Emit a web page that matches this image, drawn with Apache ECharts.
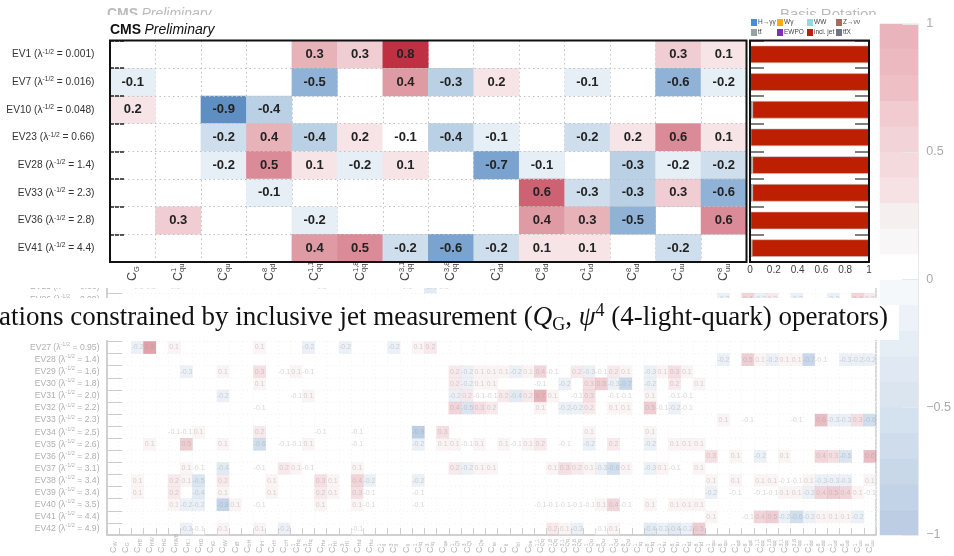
<!DOCTYPE html>
<html><head><meta charset="utf-8">
<style>html,body{margin:0;padding:0;background:#fff}#c{width:954px;height:556px}</style>
<script src="https://cdn.jsdelivr.net/npm/echarts@6/dist/echarts.min.js"></script>
</head><body><div id="c"></div>
<script>
// ---------- upper panel data ----------
const topCols = ['G','qu|1','qu|8','qd|8','qq|1,1','qq|1,8','qq|3,1','qq|3,8','dd|1','dd|8','ud|1','ud|8','uu|1','uu|8'];
const topRows = ['EV1','EV7','EV10','EV23','EV28','EV33','EV36','EV41'];
const topLambda = ['0.001','0.016','0.048','0.66','1.4','2.3','2.8','4.4'];
const topEV1  = [[4,.34],[5,.27],[6,.82],[12,.27],[13,.12]];
const topEV7  = [[0,-.14],[4,-.52],[6,.42],[7,-.33],[8,.19],[10,-.14],[12,-.58],[13,-.18]];
const topEV10 = [[0,.18],[2,-.88],[3,-.37]];
const topEV23 = [[2,-.22],[3,.36],[4,-.38],[5,.18],[6,-.06],[7,-.38],[8,-.14],[10,-.22],[11,.18],[12,.58],[13,.12]];
const topEV28 = [[2,-.18],[3,.53],[4,.14],[5,-.18],[6,.14],[8,-.68],[9,-.14],[11,-.34],[12,-.18],[13,-.22]];
const topEV33 = [[3,-.13],[9,.64],[10,-.27],[11,-.33],[12,.26],[13,-.58]];
const topEV36 = [[1,.26],[4,-.18],[9,.42],[10,.34],[11,-.52],[13,.58]];
const topEV41 = [[4,.44],[5,.52],[6,-.22],[7,-.62],[8,-.23],[9,.13],[10,.13],[12,-.22]];
const topValues = [topEV1,topEV7,topEV10,topEV23,topEV28,topEV33,topEV36,topEV41];

// ---------- fraction bars ----------
const barNames = ['H→γγ','Wγ','WW','Z→νν','tt̄','EWPO','incl. jet','tt̄X'];
const barColors = ['#3f90da','#ffa90e','#92dadd','#a96b59','#94a4a2','#832db6','#bd2000','#717581'];
const fracTt  = [0.002,0.002,0.02,0.006,0.02,0.02,0.004,0.015];
const fracJet = [0.998,0.998,0.98,0.994,0.98,0.98,0.996,0.985];
const fracZero = [0,0,0,0,0,0,0,0];

// ---------- lower panel data ----------
const lowCols = ['W','G2|','HB','HW','HG','HWB','H□','HD','tG','tW','tB','bH','tH','τH','cH','Hq|1','Hq|3','He','Hl|1','Hl|3','Hd','Hu','ll|1','ll|3','ll','lq|1','lq|3','qe','Ql|1','Ql|3','Qe','te','tl','bl','be','Qq|1,1','Qq|1,8','Qq|3,1','Qq|3,8','Qu|1','Qu|8','Qd|1','Qd|8','tq|1','tq|8','tu|1','tu|8','td|1','td|8','qu|1','qu|8','qd|1','qd|8','qq|1,1','qq|1,8','qq|3,1','qq|3,8','dd|1','dd|8','ud|1','ud|8','uu|1','uu|8'];
const lowRows = ['EV25','EV26','','','','EV27','EV28','EV29','EV30','EV31','EV32','EV33','EV34','EV35','EV36','EV37','EV38','EV39','EV40','EV41','EV42'];
const lowLambda = ['0.86','0.90','','','','0.95','1.4','1.6','1.8','2.0','2.2','2.3','2.5','2.6','2.8','3.1','3.4','3.4','3.5','4.4','4.9'];
const ev25 = [[2,-.1],[3,-.1],[5,-.1],[17,-.1],[24,-.1],[26,-.4],[27,-.1]];
const ev26 = [[50,-.2],[52,.4],[53,-.3],[54,.2],[56,-.2],[59,-.2],[61,.4],[62,.2]];
const ev27 = [[2,-.2],[3,.9],[5,.1],[12,.1],[16,-.2],[19,-.2],[23,-.2],[25,.1],[26,.2]];
const ev28 = [[50,-.2],[52,.5],[53,.1],[54,-.2],[55,.1],[56,.1],[57,-.7],[58,-.1],[60,-.3],[61,-.2],[62,-.2]];
const ev29 = [[6,-.3],[9,.1],[12,.3],[14,-.1],[15,.1],[16,-.1],[28,.2],[29,-.2],[30,.1],[31,.1],[32,.1],[33,-.2],[34,.1],[35,.4],[36,-.1],[38,.2],[39,-.3],[40,-.1],[41,.2],[42,.1],[44,-.3],[45,.1],[46,.3],[47,.1]];
const ev30 = [[12,.1],[28,.2],[29,-.2],[30,.1],[31,.1],[35,-.1],[37,-.2],[39,.3],[40,.5],[41,-.3],[42,-.7],[44,-.2],[46,.2],[48,.1]];
const ev31 = [[9,-.2],[15,-.1],[16,.1],[28,-.2],[29,.2],[30,-.1],[31,-.1],[32,.2],[33,-.4],[34,.2],[35,.7],[36,.1],[38,-.1],[39,.3],[41,-.1],[42,-.1],[44,.1],[46,-.1],[47,-.1]];
const ev32 = [[12,-.1],[28,.4],[29,-.5],[30,.3],[31,.2],[35,.1],[37,-.2],[38,-.2],[39,.2],[41,.1],[42,.1],[44,.5],[45,-.1],[46,-.2],[47,-.1]];
const ev33 = [[50,.1],[52,-.1],[56,-.1],[58,.6],[59,-.3],[60,-.3],[61,.3],[62,-.6]];
const ev34 = [[5,-.1],[6,-.1],[7,.1],[12,.2],[17,-.1],[20,-.1],[25,-.9],[27,.3],[39,.1],[44,.1]];
const ev35 = [[3,.1],[6,.5],[9,.1],[12,-.6],[14,-.1],[15,-.1],[16,.1],[20,-.1],[25,-.2],[27,.1],[28,.1],[29,-.1],[30,.1],[32,.1],[33,-.1],[34,.1],[35,.2],[37,-.1],[39,-.2],[41,.2],[44,-.2],[46,.1],[47,.1],[48,.1]];
const ev36 = [[49,.3],[51,.1],[53,-.2],[55,.1],[58,.4],[59,.3],[60,-.5],[62,.6]];
const ev37 = [[6,.1],[7,-.1],[9,-.4],[12,-.1],[14,.2],[15,.1],[16,-.1],[20,.1],[28,.2],[29,-.2],[30,.1],[31,.1],[36,.1],[37,.3],[38,.2],[39,.1],[40,-.3],[41,-.6],[42,.1],[44,-.3],[45,.1],[46,-.1],[48,.1]];
const ev38 = [[2,.1],[5,.2],[6,.1],[7,-.5],[9,.2],[13,.1],[17,.3],[18,.1],[20,.4],[21,-.2],[25,-.2],[49,.1],[51,.1],[53,.1],[54,.1],[55,-.1],[56,-.1],[57,.1],[58,-.3],[59,-.3],[60,-.3],[62,.1]];
const ev39 = [[2,.1],[5,.2],[7,-.4],[9,.1],[13,.1],[17,.2],[18,.1],[20,.3],[21,-.1],[25,-.1],[49,-.2],[51,-.1],[53,-.1],[54,-.1],[55,.1],[56,.1],[57,-.2],[58,.4],[59,.5],[60,.4],[61,.1],[62,-.1]];
const ev40 = [[5,.1],[6,-.2],[7,-.2],[9,-.8],[10,.1],[12,-.1],[17,.1],[20,.1],[21,-.1],[25,-.1],[35,-.1],[36,-.1],[37,-.1],[38,-.1],[39,-.1],[40,.1],[41,.4],[42,-.1],[44,.1],[46,.1],[47,.1],[48,.1]];
const ev41 = [[49,.1],[52,-.1],[53,.4],[54,.5],[55,-.2],[56,-.6],[57,-.2],[58,.1],[59,.1],[60,.1],[61,-.2]];
const ev42 = [[6,-.3],[7,-.1],[9,.1],[12,.1],[14,-.2],[20,-.1],[36,.2],[37,.1],[38,-.3],[40,-.1],[41,.1],[44,-.4],[45,-.2],[46,-.4],[47,-.2],[48,.5]];
const lowValues = [ev25,ev26,[],[],[],ev27,ev28,ev29,ev30,ev31,ev32,ev33,ev34,ev35,ev36,ev37,ev38,ev39,ev40,ev41,ev42];

// ---------- colour scale ----------
const binLow = [-1,-.9,-.8,-.7,-.6,-.5,-.4,-.3,-.2,-.1,0,.1,.2,.3,.4,.5,.6,.7,.8,.9];
const scaleColors = ['#bdcee4','#c3d3e7','#c9d8e9','#cfdcec','#d4e1ee','#dae5f0','#e0e9f3','#e6eef5','#edf2f8','#f5f8fb','#ffffff','#f8f6f6','#f5efef','#f6e1e4','#f4dadd','#f2d3d7','#f1cbd0','#eec0c6','#ecb9c0','#e9b4bb'];
const posCells = ['#ffffff','#f6e4e7','#efcdd2','#e8b2b9','#df9ba4','#da8b97','#cc6272','#c54a5b','#be3042','#b41f32'];
const negCells = ['#477eb9','#5587bf','#5f8ec2','#6d9aca','#7ba3cf','#8fb2d6','#a5c2de','#bad0e5','#cfdeec','#e6eef6'];
const negTop = [-1,-.9,-.8,-.7,-.6,-.5,-.4,-.3,-.2,-.1];

const SANS = '"Liberation Sans", Arial, sans-serif';
const SERIF = '"Liberation Serif", serif';

function pieces(){
  const out = [{gte:-.1,lt:.1,color:'#ffffff'}];
  negTop.slice(0,-1).forEach((lo,i)=>out.push({gte:lo,lt:lo+.1,color:negCells[i+1]}));
  for(let i=1;i<10;i++) out.push({gte:i/10,lte:i/10+.0999,color:posCells[i]});
  return out;
}
function cells(rows){const d=[];rows.forEach((r,y)=>r.forEach(p=>d.push([p[0],y,p[1]])));return d;}
function splitName(s){const p=s.split('|');return {sub:p[0].replace(/\d$/,''),sup:p[1]||''};}
function subLabel(v){const n=splitName(v);return '{c|C}{s|'+n.sub+'}';}
function supLabel(v){const n=splitName(v);return n.sup?'{t|C}{u|'+n.sup+'}':'';}
function rowLabel(names,lams){return (v,i)=>names[i]?'{a|'+names[i]+' (λ}{s|-1/2}{a| = '+lams[i]+')}':'';}

const lowRich=(col)=>({c:{fontSize:9,color:col,lineHeight:11,fontFamily:SANS},s:{fontSize:5.5,color:col,lineHeight:5,verticalAlign:'bottom',fontFamily:SANS},t:{fontSize:9,color:'transparent',lineHeight:11,fontFamily:SANS},u:{fontSize:5.5,color:col,lineHeight:5,verticalAlign:'top',fontFamily:SANS}});
const topRich=(col)=>({c:{fontSize:12.5,color:col,lineHeight:16,fontFamily:SANS},s:{fontSize:7.5,color:col,lineHeight:7,verticalAlign:'bottom',fontFamily:SANS},t:{fontSize:12.5,color:'transparent',lineHeight:16,fontFamily:SANS},u:{fontSize:7.5,color:col,lineHeight:7,verticalAlign:'top',fontFamily:SANS}});
const rowRich=(size,col)=>({a:{fontSize:size,color:col,fontFamily:SANS,lineHeight:12},s:{fontSize:size*.65,color:col,fontFamily:SANS,lineHeight:6,verticalAlign:'top'}});

function catX(grid,data,zl,formatter,rich,margin,extra){
  return Object.assign({type:'category',gridIndex:grid,position:'bottom',data,zlevel:zl,
    axisLine:{show:false},axisTick:{show:false},
    axisLabel:{interval:0,rotate:90,align:'left',verticalAlign:'middle',margin,formatter,rich},
    splitLine:{show:false}},extra||{});
}

const option={
 animation:false,backgroundColor:'#fff',
 textStyle:{fontFamily:SANS},
 grid:[
  {left:107,top:281,width:769,height:254,show:true,borderColor:'#cccccc',borderWidth:1.5,backgroundColor:'transparent',zlevel:0},
  {left:110,top:40.5,width:636.5,height:221.5,zlevel:2},
  {left:750,top:40.5,width:119,height:221.5,zlevel:2},
  {left:880,top:24,width:43,height:511,zlevel:0}
 ],
 xAxis:[
  catX(0,lowCols,0,(v,i)=>subLabel(v),lowRich('#b4b4b4'),18,{splitLine:{show:true,interval:0,lineStyle:{color:'#f3f3f3',type:[1,3],width:1}},axisTick:{show:true,inside:true,length:7,interval:0,lineStyle:{color:'#cccccc'}},axisLine:{show:true,lineStyle:{color:'#cccccc',width:1.5}}}),
  catX(0,lowCols,0,(v,i)=>supLabel(v),lowRich('#b4b4b4'),18),
  catX(1,topCols,2,(v,i)=>subLabel(v),topRich('#444444'),19,{splitLine:{show:true,interval:0,lineStyle:{color:'#c0c0c0',type:[1.5,3],width:1}}}),
  catX(1,topCols,2,(v,i)=>supLabel(v),topRich('#444444'),19),
  {type:'value',gridIndex:2,min:0,max:1,interval:.2,zlevel:2,axisLine:{show:false},axisTick:{show:false},splitLine:{show:false},
   axisLabel:{fontSize:10,color:'#444444',margin:3,fontFamily:SANS,formatter:v=>String(+v.toFixed(1))}},
  {type:'category',gridIndex:3,data:['z'],zlevel:0,axisLine:{show:false},axisTick:{show:false},axisLabel:{show:false},splitLine:{show:false}}
 ],
 yAxis:[
  {type:'category',gridIndex:0,inverse:true,data:lowRows.map((r,i)=>r||('r'+i)),zlevel:0,
   axisLine:{show:true,lineStyle:{color:'#cccccc',width:1.5}},axisTick:{show:true,inside:true,length:15,interval:0,lineStyle:{color:'#cccccc'}},
   splitLine:{show:true,interval:0,lineStyle:{color:'#f3f3f3',type:[1,3]}},
   axisLabel:{interval:0,margin:7.5,align:'right',formatter:rowLabel(lowRows,lowLambda),rich:rowRich(8.6,'#b0b0b0')}},
  {type:'category',gridIndex:1,inverse:true,data:topRows,zlevel:2,z:6,
   axisLine:{show:false},axisTick:{show:true,inside:true,length:14,interval:0,lineStyle:{color:'#222222',width:1.5,type:[4,1]}},
   splitLine:{show:true,interval:0,lineStyle:{color:'#c0c0c0',type:[1.5,3]}},
   axisLabel:{interval:0,margin:15.5,align:'right',formatter:rowLabel(topRows,topLambda),rich:rowRich(10.2,'#333333')}},
  {type:'category',gridIndex:2,inverse:true,data:topRows,zlevel:2,z:6,position:'left',
   axisLine:{show:false},axisTick:{show:true,inside:true,length:14,interval:0,lineStyle:{color:'#555555',width:1.5}},axisLabel:{show:false},splitLine:{show:false}},
  {type:'category',gridIndex:2,inverse:true,data:topRows,zlevel:2,z:6,position:'right',
   axisLine:{show:false},axisTick:{show:true,inside:true,length:14,interval:0,lineStyle:{color:'#555555',width:1.5}},axisLabel:{show:false},splitLine:{show:false}},
  {type:'category',gridIndex:3,data:binLow.map(String),zlevel:0,axisLine:{show:false},axisTick:{show:false},axisLabel:{show:false},splitLine:{show:false}},
  {type:'value',gridIndex:3,position:'right',min:-1,max:1,interval:.5,zlevel:0,z:6,
   axisLine:{show:true,lineStyle:{color:'#e8e8e8'}},axisTick:{show:true,inside:true,length:16,lineStyle:{color:'#e8e8e8'}},splitLine:{show:false},
   axisLabel:{fontSize:12.5,color:'#aaaaaa',margin:8,fontFamily:SANS,formatter:v=>String(v).replace('-','−')}}
 ],
 visualMap:[
  {type:'piecewise',show:false,seriesIndex:[0,1],dimension:2,pieces:pieces()},
  {type:'piecewise',show:false,seriesIndex:[2],dimension:2,pieces:binLow.map((b,i)=>({gte:b,lt:b+.1,color:scaleColors[i]}))}
 ],
 legend:[0,1,2,3].map(i=>({
   zlevel:2,left:[751,777,807,836][i],top:19,orient:'vertical',itemWidth:6,itemHeight:7,itemGap:3,padding:0,
   icon:'rect',selectedMode:false,itemStyle:{borderWidth:0},
   textStyle:{fontSize:6.5,color:'#444444',padding:[0,0,0,-4],fontFamily:SANS},
   data:[barNames[i],barNames[i+4]]
 })),
 series:[
  {type:'heatmap',xAxisIndex:0,yAxisIndex:0,zlevel:0,data:cells(lowValues),itemStyle:{opacity:.42},
   label:{show:true,fontSize:7,color:'#9a9a9a',formatter:p=>p.value[2].toFixed(1),fontFamily:SANS},emphasis:{disabled:true}},
  {type:'heatmap',xAxisIndex:2,yAxisIndex:1,zlevel:2,data:cells(topValues),
   label:{show:true,fontSize:13,fontWeight:'bold',color:'#222222',formatter:p=>p.value[2].toFixed(1),fontFamily:SANS},emphasis:{disabled:true}},
  {type:'heatmap',xAxisIndex:5,yAxisIndex:4,zlevel:0,data:binLow.map((b,i)=>[0,i,b+.05]),label:{show:false},emphasis:{disabled:true}},
  ...barNames.map((n,i)=>{
    const vals = i===4?fracTt:(i===6?fracJet:fracZero);
    return {type:'bar',name:n,xAxisIndex:4,yAxisIndex:2,stack:'frac',zlevel:2,barWidth:17.5,data:vals,
      itemStyle:{color:barColors[i],borderColor:i===6?'#c8c8c8':undefined,borderWidth:i===6?.6:0}};
  })
 ],
 graphic:[
  {type:'text',zlevel:0,left:107,top:7,style:{text:'{b|CMS} {i|Preliminary}',rich:{b:{fontSize:14,fontWeight:'bold',fill:'#bbbbbb',fontFamily:SANS},i:{fontSize:14,fontStyle:'italic',fill:'#bbbbbb',fontFamily:SANS}}}},
  {type:'text',zlevel:0,left:780,top:7,style:{text:'Basis Rotation',fontSize:15,fill:'#bbbbbb',fontFamily:SANS}},
  {type:'rect',zlevel:1,shape:{x:0,y:15,width:877,height:273},style:{fill:'#fff'}},
  {type:'rect',zlevel:1,shape:{x:0,y:298,width:878,height:42},style:{fill:'#fff'}},
  {type:'rect',zlevel:1,shape:{x:878,y:305,width:21,height:35},style:{fill:'#fff'}},
  {type:'text',zlevel:3,left:-1,top:302,style:{
    text:'{a|ations constrained by inclusive jet measurement (}{i|Q}{g|G}{a|, }{i|ψ}{p|4}{a| (4-light-quark) operators)}',
    rich:{a:{fontSize:27,fill:'#111',fontFamily:SERIF,lineHeight:32},i:{fontSize:27,fontStyle:'italic',fill:'#111',fontFamily:SERIF,lineHeight:32},
          g:{fontSize:18,fill:'#111',fontFamily:SERIF,lineHeight:20,verticalAlign:'bottom'},p:{fontSize:18,fill:'#111',fontFamily:SERIF,lineHeight:20,verticalAlign:'top'}}}},
  {type:'text',zlevel:3,left:110,top:23,style:{text:'{b|CMS} {i|Preliminary}',rich:{b:{fontSize:14,fontWeight:'bold',fill:'#111',fontFamily:SANS},i:{fontSize:14,fontStyle:'italic',fill:'#111',fontFamily:SANS}}}},
  {type:'rect',zlevel:3,shape:{x:110,y:40.5,width:636.5,height:221.5},style:{fill:'none',stroke:'#111',lineWidth:2}},
  {type:'rect',zlevel:3,shape:{x:750,y:40.5,width:119,height:221.5},style:{fill:'none',stroke:'#111',lineWidth:2}}
 ]
};
const chart=echarts.init(document.getElementById('c'),null,{renderer:'canvas',width:954,height:556});
chart.setOption(option);
</script></body></html>
